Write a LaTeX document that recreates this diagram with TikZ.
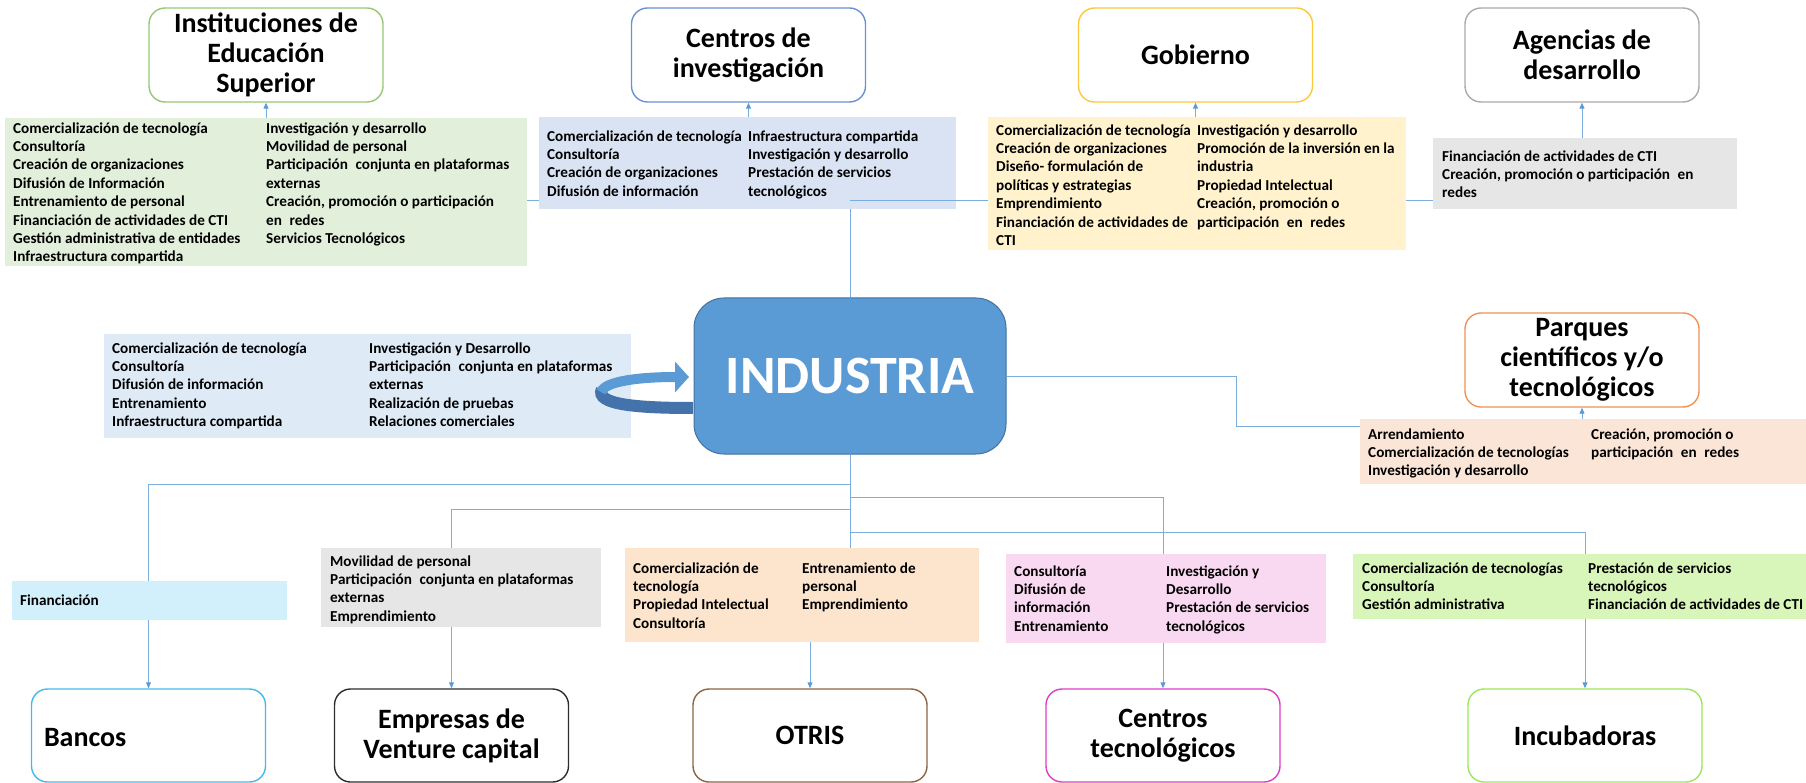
\documentclass[tikz,border=0pt]{standalone}
\usepackage{fontspec}
\setmainfont{Carlito}
\usetikzlibrary{arrows.meta}
\definecolor{lineblue}{RGB}{125,172,222}
\definecolor{tipblue}{RGB}{91,155,213}
\definecolor{indfill}{RGB}{91,155,213}
\definecolor{inddraw}{RGB}{65,113,156}
\definecolor{ribdark}{RGB}{68,114,170}
\definecolor{riblight}{RGB}{91,155,213}
\definecolor{fgreen}{RGB}{226,239,218}
\definecolor{fblue}{RGB}{218,227,243}
\definecolor{fgold}{RGB}{255,242,204}
\definecolor{fgray}{RGB}{231,230,230}
\definecolor{flblue}{RGB}{222,235,247}
\definecolor{fpeach}{RGB}{251,229,214}
\definecolor{fcyan}{RGB}{209,240,251}
\definecolor{forange}{RGB}{253,229,205}
\definecolor{fpink}{RGB}{249,216,241}
\definecolor{flime}{RGB}{216,246,186}
\definecolor{bgreen}{RGB}{150,200,115}
\definecolor{bblue}{RGB}{105,145,212}
\definecolor{bgold}{RGB}{252,200,60}
\definecolor{bgray}{RGB}{170,170,170}
\definecolor{borange}{RGB}{240,145,85}
\definecolor{bcyan}{RGB}{70,185,235}
\definecolor{bdark}{RGB}{45,45,45}
\definecolor{bbrown}{RGB}{140,100,65}
\definecolor{bmagenta}{RGB}{220,60,205}
\definecolor{blime}{RGB}{155,232,85}
\newcommand{\xsp}{\hspace{0.5em}}
\begin{document}
\begin{tikzpicture}[x=1pt,y=-1pt,
  titlebox/.style={draw, line width=1.4pt, fill=white, rounded corners=16pt, align=center,
    inner sep=0pt, minimum width=234pt, minimum height=94pt,
    font=\fontsize{28}{30}\selectfont\bfseries},
  fillbox/.style={draw=none, inner sep=0pt, anchor=north west},
  txt/.style={anchor=north west, inner sep=0pt, align=left,
    font=\fontsize{15.2}{18.4}\selectfont\bfseries},
  conn/.style={draw=lineblue, line width=0.9pt},
  arr/.style={conn, -{Triangle[length=6pt,width=5pt,color=tipblue]}}
]
\useasboundingbox (0,0) rectangle (1806,783);

% ---- helper coordinates
\coordinate (jt) at (850,200);
\coordinate (kr) at (1236,426);
\coordinate (h1) at (0,484);
\coordinate (h2) at (0,497);
\coordinate (h3) at (0,509);
\coordinate (h4) at (0,532);
\coordinate (grE) at (527,200);
\coordinate (goW) at (988,200);
\coordinate (gyW) at (1433,200);

% ---- box of the self relation and its loop ribbon
\node[fillbox, fill=flblue, minimum width=527pt, minimum height=104pt] (ib) at (104,334) {};
\draw[ribdark, line width=12pt] (693,408) .. controls (640,408) and (594,405) .. (602,389);
\draw[riblight, line width=10pt, -{Triangle[length=14pt,width=30pt]}]
  (601,392) .. controls (605,381) and (640,377) .. (689,377);

% ---- central node
\node[draw=inddraw, fill=indfill, line width=1pt, rounded corners=30pt,
  minimum width=312pt, minimum height=156pt, inner sep=0pt,
  text=white, font=\fontsize{54}{58}\selectfont\bfseries] (ind) at (850,376) {\raisebox{-3pt}{INDUSTRIA}};

% ---- title boxes
\node[titlebox, draw=bgreen] (ies) at (266,55) {Instituciones de\\Educación\\Superior};
\node[titlebox, draw=bblue] (cin) at (748.5,55) {Centros de\\investigación};
\node[titlebox, draw=bgold] (gob) at (1195.5,55) {Gobierno};
\node[titlebox, draw=bgray] (age) at (1582,55) {Agencias de\\desarrollo};
\node[titlebox, draw=borange] (par) at (1582,360) {Parques\\científicos y/o\\tecnológicos};
\node[titlebox, draw=bcyan, minimum height=93pt] (ban) at (148.5,735.5) {};
\node[titlebox, draw=bdark, minimum height=93pt] (emp) at (451.5,735.5) {Empresas de\\Venture capital};
\node[titlebox, draw=bbrown, minimum height=93pt] (otr) at (810,735.5) {OTRIS};
\node[titlebox, draw=bmagenta, minimum height=93pt] (cte) at (1163,735.5) {Centros\\tecnológicos};
\node[titlebox, draw=blime, minimum height=93pt] (inc) at (1585,735.5) {Incubadoras};
\node[anchor=west, inner sep=0pt, font=\fontsize{28}{30}\selectfont\bfseries] (bant) at ([xshift=13pt,yshift=-2pt]ban.west) {Bancos};

% ---- connectors behind boxes
\draw[conn] (ind.north) -- (jt) -- (grE);
\draw[conn] (jt) -- (gyW);
\draw[arr] (ind.south) -- (ind.south |- h1) -| (ban.north);
\draw[arr] (ind.south |- h1) -- (ind.south |- h3) -| (emp.north);
\draw[arr] (ind.south |- h2) -| (cte.north);
\draw[arr] (ind.south |- h3) -- (ind.south |- h4) -| (inc.north);
\draw[conn] (ind.south |- h4) -- (850,548);

% ---- fill boxes
\node[fillbox, fill=fgreen, minimum width=522pt, minimum height=148pt] (gr) at (5,118) {};
\node[fillbox, fill=fblue, minimum width=417pt, minimum height=92pt] (bl) at (539,117) {};
\draw[conn] (jt) -- (goW);
\node[fillbox, fill=fgold, minimum width=418pt, minimum height=133pt] (go) at (988,117) {};
\node[fillbox, fill=fgray, minimum width=304pt, minimum height=71pt] (gy) at (1433,138) {};
\node[fillbox, fill=fpeach, minimum width=446pt, minimum height=65pt] (pe) at (1360,419) {};
\node[fillbox, fill=fcyan, minimum width=275pt, minimum height=39pt] (fi) at (12,581) {};
\node[fillbox, fill=fgray, minimum width=280pt, minimum height=79pt] (eg) at (321,548) {};
\node[fillbox, fill=forange, minimum width=354pt, minimum height=94pt] (op) at (625,548) {};
\node[fillbox, fill=fpink, minimum width=320pt, minimum height=89pt] (pk) at (1006,554) {};
\node[fillbox, fill=flime, minimum width=453pt, minimum height=65pt] (ig) at (1353,554) {};

% ---- upward arrows and other connectors
\draw[arr] (ies.south |- gr.north) -- (ies.south);
\draw[arr] (cin.south |- bl.north) -- (cin.south);
\draw[arr] (gob.south |- go.north) -- (gob.south);
\draw[arr] (age.south |- gy.north) -- (age.south);
\draw[arr] (par.south |- pe.north) -- (par.south);
\draw[arr] (otr.north |- op.south) -- (otr.north);
\draw[conn] (ind.east) -| (kr) -- (kr -| pe.west);

% ---- texts
\node[txt] (gr1) at (13,120) {\strut Comercialización de tecnología\\Consultoría\\Creación de organizaciones\\Difusión de Información\\Entrenamiento de personal\\Financiación de actividades de CTI\\Gestión administrativa de entidades\\Infraestructura compartida};
\node[txt] (gr2) at (266,120) {\strut Investigación y desarrollo\\Movilidad de personal\\Participación\xsp conjunta en plataformas\\externas\\Creación, promoción o participación\\en\xsp redes\\Servicios Tecnológicos};

\node[txt] (bl1) at (547,128) {\strut Comercialización de tecnología\\Consultoría\\Creación de organizaciones\\Difusión de información};
\node[txt] (bl2) at (748,128) {\strut Infraestructura compartida\\Investigación y desarrollo\\Prestación de servicios\\tecnológicos};

\node[txt] (go1) at (996,122) {\strut Comercialización de tecnología\\Creación de organizaciones\\Diseño- formulación de\\políticas y estrategias\\Emprendimiento\\Financiación de actividades de\\CTI};
\node[txt] (go2) at (1197,122) {\strut Investigación y desarrollo\\Promoción de la inversión en la\\industria\\Propiedad Intelectual\\Creación, promoción o\\participación\xsp en\xsp redes};

\node[txt] (gy1) at (1442,148) {\strut Financiación de actividades de CTI\\Creación, promoción o participación\xsp en\\redes};

\node[txt] (ib1) at (112,340) {\strut Comercialización de tecnología\\Consultoría\\Difusión de información\\Entrenamiento\\Infraestructura compartida};
\node[txt] (ib2) at (369,340) {\strut Investigación y Desarrollo\\Participación\xsp conjunta en plataformas\\externas\\Realización de pruebas\\Relaciones comerciales};

\node[txt] (pe1) at (1368,426) {\strut Arrendamiento\\Comercialización de tecnologías\\Investigación y desarrollo};
\node[txt] (pe2) at (1591,426) {\strut Creación, promoción o\\participación\xsp en\xsp redes};

\node[txt] (fi1) at (20,592) {\strut Financiación};

\node[txt] (eg1) at (330,553) {\strut Movilidad de personal\\Participación\xsp conjunta en plataformas\\externas\\Emprendimiento};

\node[txt] (op1) at (633,560) {\strut Comercialización de\\tecnología\\Propiedad Intelectual\\Consultoría};
\node[txt] (op2) at (802,560) {\strut Entrenamiento de\\personal\\Emprendimiento};

\node[txt] (pk1) at (1014,563) {\strut Consultoría\\Difusión de\\información\\Entrenamiento};
\node[txt] (pk2) at (1166,563) {\strut Investigación y\\Desarrollo\\Prestación de servicios\\tecnológicos};

\node[txt] (ig1) at (1362,560) {\strut Comercialización de tecnologías\\Consultoría\\Gestión administrativa};
\node[txt] (ig2) at (1588,560) {\strut Prestación de servicios\\tecnológicos\\Financiación de actividades de CTI};
\end{tikzpicture}
\end{document}
